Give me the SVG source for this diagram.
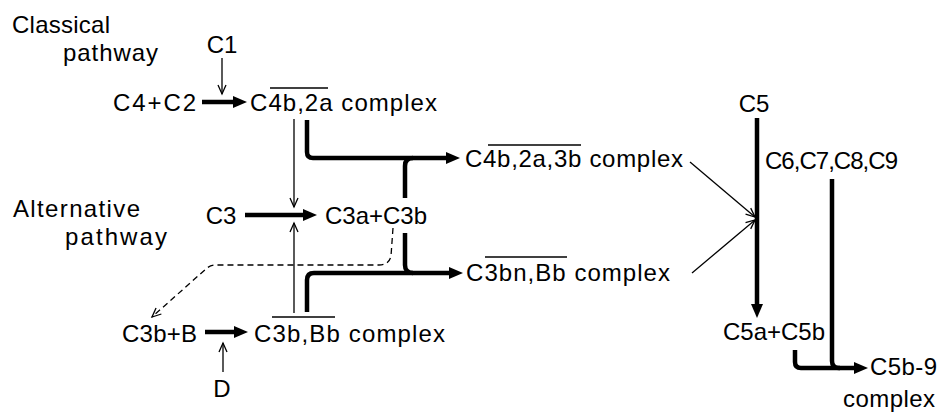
<svg xmlns="http://www.w3.org/2000/svg" width="939" height="414" viewBox="0 0 939 414">
<style>
text{font-family:"Liberation Sans",Arial,sans-serif;font-size:24px;fill:#000}
.c{text-anchor:middle}
.thick{fill:none;stroke:#000;stroke-width:4.5;stroke-linejoin:round}
.thin{fill:none;stroke:#000;stroke-width:1.3}
.dash{fill:none;stroke:#000;stroke-width:1.3;stroke-dasharray:6 4}
.ol{stroke:#000;stroke-width:1.5}
</style>
<defs>
<marker id="ah" markerUnits="userSpaceOnUse" markerWidth="14" markerHeight="12" refX="6" refY="6" orient="auto" overflow="visible"><path d="M0,0 L14,6 L0,12 z" fill="#000"/></marker>
<marker id="av" markerUnits="userSpaceOnUse" markerWidth="10" markerHeight="8" refX="9" refY="4" orient="auto" overflow="visible"><path d="M0,0 L9,4 L0,8" fill="none" stroke="#000" stroke-width="1.3"/></marker>
</defs>
<rect width="939" height="414" fill="#fff"/>
<g id="labels">
<text x="12" y="33" textLength="98">Classical</text>
<text x="63" y="61" textLength="95">pathway</text>
<text x="13" y="217" textLength="127">Alternative</text>
<text x="65" y="245" textLength="102">pathway</text>
</g>
<g id="connectors">
<path class="thin" d="M222,58 V94" marker-end="url(#av)"/>
<path class="thick" d="M202,102 H239" marker-end="url(#ah)"/>
<path class="thin" d="M294,119 V207" marker-end="url(#av)"/>
<path class="thick" d="M307,120 V152 Q307,158 313,158 H452" marker-end="url(#ah)"/>
<path class="thick" d="M405,198 V166 Q405,158 413,158"/>
<path class="thick" d="M245,215 H309" marker-end="url(#ah)"/>
<path class="thin" d="M294,313 V223" marker-end="url(#av)"/>
<path class="thick" d="M405,233 V265 Q405,273 413,273"/>
<path class="thick" d="M307,312 V280 Q307,273 314,273 H455" marker-end="url(#ah)"/>
<path class="dash" d="M393,228 L391,256 Q389,265 379,265 H216 Q211,265 207,268 L152,317" marker-end="url(#av)"/>
<path class="thick" d="M205,332 H240" marker-end="url(#ah)"/>
<path class="thin" d="M223,372 V343" marker-end="url(#av)"/>
<path class="thin" d="M690,162 L755,217" marker-end="url(#av)"/>
<path class="thin" d="M692,273 L755,220" marker-end="url(#av)"/>
<path class="thick" d="M757,118 V310" marker-end="url(#ah)"/>
<path class="thick" d="M832,179 V361 Q832,368 839,368 H860" marker-end="url(#ah)"/>
<path class="thick" d="M795,350 V362 Q795,368 801,368 H840"/>
</g>
<g id="C1"><text class="c" x="222" y="53">C1</text></g>
<g id="C4C2"><text x="113" y="111" textLength="83">C4+C2</text></g>
<g id="C4b2a"><text x="250" y="111" textLength="187">C4b,2a complex</text><line class="ol" x1="270" y1="88" x2="328" y2="88"/></g>
<g id="C3"><text class="c" x="221" y="224">C3</text></g>
<g id="C3aC3b"><text x="325" y="224" textLength="102">C3a+C3b</text></g>
<g id="C4b2a3b"><text x="465" y="167" textLength="218">C4b,2a,3b complex</text><line class="ol" x1="488" y1="145" x2="581" y2="145"/></g>
<g id="C3bnBb"><text x="466" y="281" textLength="204">C3bn,Bb complex</text><line class="ol" x1="485" y1="257" x2="567" y2="257"/></g>
<g id="C3bB"><text x="122" y="342" textLength="75">C3b+B</text></g>
<g id="C3bBb"><text x="254" y="342" textLength="191">C3b,Bb complex</text><line class="ol" x1="272" y1="317" x2="335" y2="317"/></g>
<g id="D"><text class="c" x="222" y="397">D</text></g>
<g id="C5"><text class="c" x="754" y="112">C5</text></g>
<g id="C6C9"><text x="765" y="169" textLength="133">C6,C7,C8,C9</text></g>
<g id="C5aC5b"><text x="723" y="340" textLength="102">C5a+C5b</text></g>
<g id="C5b9"><text x="870" y="375" textLength="67">C5b-9</text><text x="843" y="407" textLength="92">complex</text></g>
</svg>
